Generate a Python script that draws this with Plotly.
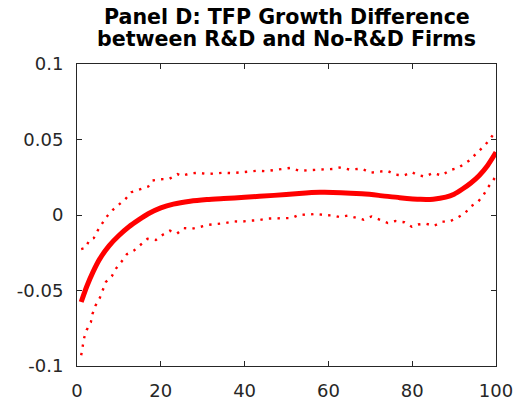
import plotly.graph_objects as go

# Main estimate (thick solid line)
main_x = [1, 2.3, 3.8, 5.4, 7.7, 10, 12.4, 14.8, 17, 20, 23, 27, 31, 35, 40, 47, 53, 58, 63, 68, 72, 77, 82, 85, 88,
          90, 92, 94, 96, 98, 100]
main_y = [-0.0576, -0.0475, -0.0378, -0.0292, -0.0203, -0.0136, -0.0078, -0.0031, 0.0008, 0.0047, 0.0072, 0.0091,
          0.0102, 0.0109, 0.0117, 0.013, 0.0143, 0.015, 0.0148, 0.014, 0.013, 0.0115, 0.0104, 0.0105,
          0.0118, 0.0138, 0.0172, 0.0212, 0.0262, 0.0328, 0.0415]

# Upper confidence band (dotted)
upper_x = [1, 2, 3, 4, 5, 6, 7, 8.5, 10, 11.5, 13, 15, 17, 18, 20, 22, 24, 25, 27, 29, 31, 33, 35, 37, 39, 41, 43,
           45, 47, 49, 51, 53, 55, 57, 59, 61, 63, 65, 67, 68, 70, 72, 74, 76, 78, 80, 81, 83, 85, 87, 89, 91,
           92.5, 94, 95.5, 97, 98.5, 100]
upper_y = [-0.0226, -0.0218, -0.0164, -0.0153, -0.010, -0.0061, -0.0014, 0.0033, 0.0068, 0.0104, 0.0151, 0.017,
           0.0188, 0.0228, 0.0237, 0.0239, 0.0271, 0.0259, 0.0275, 0.028, 0.0271, 0.0275, 0.028, 0.0277, 0.0284,
           0.0286, 0.0293, 0.029, 0.0297, 0.0304, 0.0312, 0.0293, 0.0297, 0.030, 0.0305, 0.0305, 0.0316, 0.0301,
           0.0305, 0.0307, 0.028, 0.0286, 0.0293, 0.0267, 0.0262, 0.0284, 0.0267, 0.0254, 0.0278, 0.0262, 0.0297,
           0.0312, 0.034, 0.0368, 0.0415, 0.0451, 0.050, 0.056]

# Lower confidence band (dotted)
lower_x = [1, 1.3, 1.7, 2.3, 3.3, 3.7, 4.4, 5.4, 6.1, 6.9, 8.3, 9.3, 10.6, 11.9, 13.6, 15.3, 16.8, 18.8, 20.4, 22.2,
           23.9, 25.5, 27.4, 29.5, 31.5, 33.6, 35.5, 37.3, 39.3, 41.3, 43.3, 45.3, 47.3, 49.3, 51.3, 53.1, 55, 57,
           59.2, 61.1, 62.7, 64.6, 66.6, 68.4, 70.3, 72.3, 74.2, 76, 78.1, 79.9, 81.4, 83.2, 85.2, 87.2, 88.8, 90.8,
           92.6, 94, 95.7, 97, 98.1, 99.4, 100]
lower_y = [-0.0929, -0.0871, -0.0814, -0.0762, -0.0711, -0.0655, -0.0601, -0.0552, -0.0496, -0.0443, -0.0406,
           -0.0355, -0.031, -0.026, -0.0235, -0.0196, -0.0158, -0.0166, -0.0132, -0.0104, -0.0123, -0.0087, -0.0091,
           -0.0078, -0.0065, -0.0059, -0.0053, -0.0042, -0.0044, -0.0037, -0.0035, -0.0024, -0.0022, -0.0018, -0.002,
           0.0003, 0.0001, 0.0008, -0.0001, -0.0003, -0.0014, -0.0004, -0.0018, -0.0031, -0.001, -0.0031, -0.0053,
           -0.004, -0.0048, -0.0078, -0.0063, -0.0057, -0.0072, -0.0044, -0.0044, -0.0018, 0.0012, 0.0057, 0.0087,
           0.0132, 0.0183, 0.0233, 0.026]

x_ticks = [0, 20, 40, 60, 80, 100]
y_ticks = [-0.1, -0.05, 0, 0.05, 0.1]
y_tick_text = ["-0.1", "-0.05", "0", "0.05", "0.1"]
title_lines = ["Panel D: TFP Growth Difference", "between R&D and No-R&D Firms"]

RED = "#ff0000"
AX = "#262626"
FONT = "DejaVu Sans, Liberation Sans, Arial, sans-serif"

fig = go.Figure()
fig.add_trace(go.Scatter(x=upper_x, y=upper_y, mode="lines",
                         line=dict(color=RED, width=2.4, dash="2.4px,6.2px"), hoverinfo="skip"))
fig.add_trace(go.Scatter(x=lower_x, y=lower_y, mode="lines",
                         line=dict(color=RED, width=2.4, dash="2.4px,6.2px"), hoverinfo="skip"))
fig.add_trace(go.Scatter(x=main_x, y=main_y, mode="lines",
                         line=dict(color=RED, width=5, shape="spline", smoothing=0.7), hoverinfo="skip"))

axis_common = dict(showline=True, linecolor=AX, linewidth=1, mirror="ticks", ticks="inside",
                   ticklen=5, tickcolor=AX, tickwidth=1, showgrid=False, zeroline=False,
                   tickfont=dict(family=FONT, size=18, color=AX))

fig.update_layout(
    width=525, height=413,
    margin=dict(l=77, r=20, t=64, b=38),
    paper_bgcolor="white", plot_bgcolor="white",
    showlegend=False,
    xaxis=dict(range=[0, 100], tickvals=x_ticks, ticklabelstandoff=8, **axis_common),
    yaxis=dict(range=[-0.1, 0.1], tickvals=y_ticks, ticktext=y_tick_text, ticklabelstandoff=9, **axis_common),
)
for line_text, ypos in zip(title_lines, [1.1566, 1.0836]):
    fig.add_annotation(text="<b>" + line_text + "</b>", xref="paper", yref="paper", x=0.5, y=ypos,
                       xanchor="center", yanchor="middle", showarrow=False,
                       font=dict(family=FONT, size=20.6, color="black"))

fig.write_html("out.html")
